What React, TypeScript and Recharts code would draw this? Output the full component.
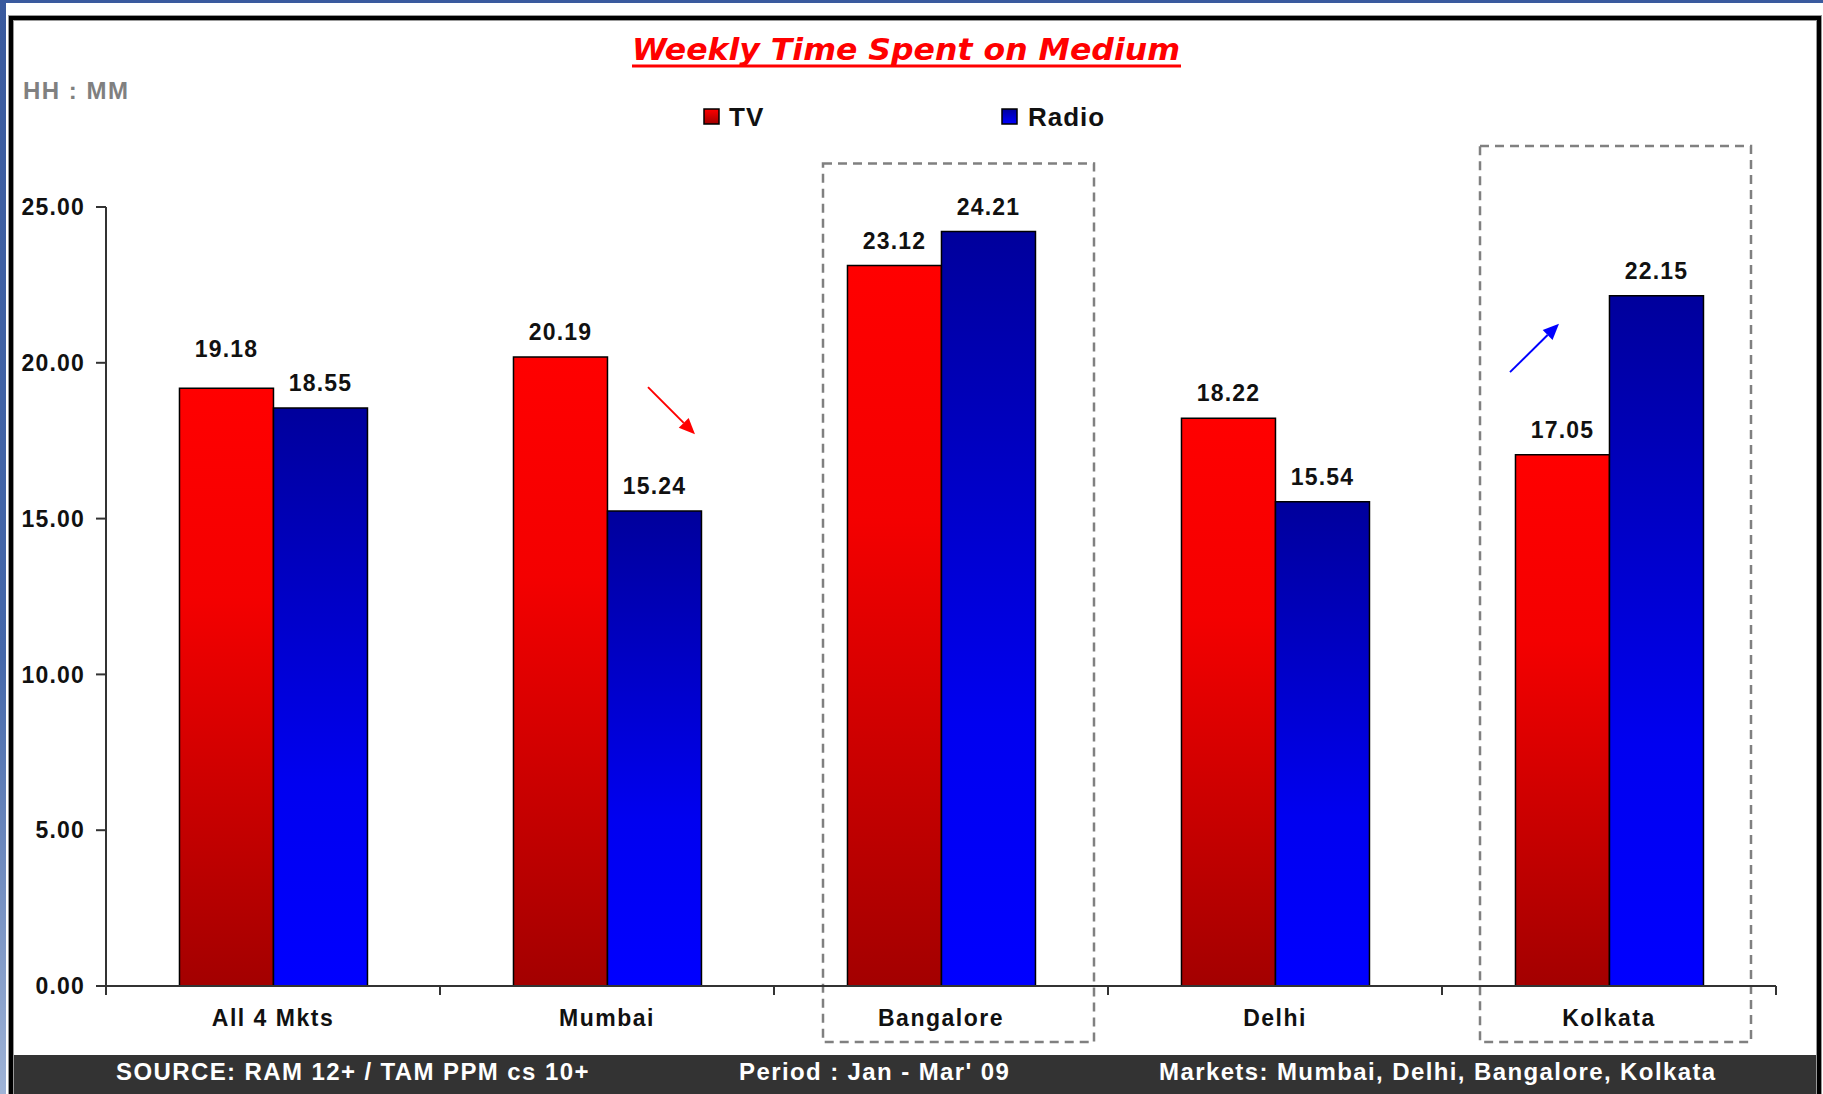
import React from 'react';
import { BarChart, Bar, XAxis, YAxis, LabelList, ReferenceArea, ReferenceLine } from 'recharts';

const categories = ['All 4 Mkts', 'Mumbai', 'Bangalore', 'Delhi', 'Kolkata'];
const tvValues = [19.18, 20.19, 23.12, 18.22, 17.05];
const radioValues = [18.55, 15.24, 24.21, 15.54, 22.15];
const yTicks = [0, 5, 10, 15, 20, 25];
const seriesNames = ['TV', 'Radio'];
const titleText = 'Weekly Time Spent on Medium';
const unitText = 'HH : MM';
const footerTexts = ['SOURCE: RAM 12+ / TAM PPM cs 10+', "Period : Jan - Mar' 09", 'Markets: Mumbai, Delhi, Bangalore, Kolkata'];

const data = categories.map((c, i) => ({ cat: c, tv: tvValues[i], radio: radioValues[i] }));

const W = 1823;
const H = 1094;
const MARGIN = { top: 207, right: 47, bottom: 48, left: 0 };
const YAXIS_W = 106;
const XAXIS_H = 60;
const PLOT_W = W - MARGIN.left - MARGIN.right - YAXIS_W;
const BAND = PLOT_W / categories.length;
const FONT = '"Liberation Sans", Arial, sans-serif';

const makeLabel = (key: 'tv' | 'radio') => (props: any) => {
  const { x, y, width, index, value } = props;
  const own = key === 'tv' ? tvValues[index] : radioValues[index];
  const other = key === 'tv' ? radioValues[index] : tvValues[index];
  const lift = own >= other && own - other < 1 ? 14 : 0;
  return (
    <text
      x={Number(x) + Number(width) / 2}
      y={Number(y) - 17 - lift}
      textAnchor="middle"
      fontFamily={FONT}
      fontSize={23}
      fontWeight="bold"
      fill="#111"
      letterSpacing={1.2}
    >
      {Number(value).toFixed(2)}
    </text>
  );
};

const XTick = (props: any) => {
  const { x, y, payload, index } = props;
  return (
    <g>
      <line x1={x - BAND / 2} x2={x - BAND / 2} y1={y} y2={y + 9} stroke="#333" strokeWidth={2} />
      {index === categories.length - 1 && (
        <line x1={x + BAND / 2} x2={x + BAND / 2} y1={y} y2={y + 9} stroke="#333" strokeWidth={2} />
      )}
      <text x={x} y={y + 40} textAnchor="middle" fontFamily={FONT} fontSize={23} fontWeight="bold" fill="#111" letterSpacing={1.5}>
        {payload.value}
      </text>
    </g>
  );
};

const boxShape = (leftInset: number, rightInset: number) => (p: any) => (
  <rect
    x={p.x + leftInset}
    y={p.y}
    width={p.width - leftInset - rightInset}
    height={p.height}
    fill="none"
    stroke="#808080"
    strokeWidth={2.5}
    strokeDasharray="9 6"
  />
);

const arrowShape = (dx1: number, dx2: number, color: string, id: string) => (p: any) => {
  const x1 = p.x1 + dx1;
  const x2 = p.x2 + dx2;
  const y1 = p.y1;
  const y2 = p.y2;
  const ang = Math.atan2(y2 - y1, x2 - x1);
  const len = 16;
  const half = 7;
  const bx = x2 - len * Math.cos(ang);
  const by = y2 - len * Math.sin(ang);
  const pts = [
    `${x2},${y2}`,
    `${bx + half * Math.sin(ang)},${by - half * Math.cos(ang)}`,
    `${bx - half * Math.sin(ang)},${by + half * Math.cos(ang)}`,
  ].join(' ');
  return (
    <g key={id}>
      <line x1={x1} y1={y1} x2={bx} y2={by} stroke={color} strokeWidth={2} />
      <polygon points={pts} fill={color} />
    </g>
  );
};

export default function App() {
  return (
    <div
      style={{
        position: 'fixed',
        left: 0,
        top: 0,
        width: W,
        height: H,
        overflow: 'hidden',
        background: 'linear-gradient(180deg, #3a5a9e 0%, #4467aa 60%, #9fb3d6 100%)',
        fontFamily: FONT,
      }}
    >
      <div style={{ position: 'absolute', left: 6, top: 3, width: W - 6, height: H - 3, background: '#ffffff' }} />
      <div
        style={{
          position: 'absolute',
          left: 9,
          top: 16,
          width: 1812,
          height: H - 16 + 10,
          border: '4px solid #000',
          boxShadow: '0 0 0 1px #999, inset 0 0 0 1px #999',
          boxSizing: 'border-box',
        }}
      />
      <div style={{ position: 'absolute', left: 14, top: 1055, width: 1802, height: 39, background: '#333333' }} />
      {footerTexts.map((t, i) => (
        <div
          key={t}
          style={{
            position: 'absolute',
            left: [116, 739, 1159][i],
            top: 1055,
            height: 34,
            lineHeight: '34px',
            color: '#ffffff',
            fontWeight: 'bold',
            fontSize: 24,
            whiteSpace: 'nowrap',
            letterSpacing: 1.4,
          }}
        >
          {t}
        </div>
      ))}
      <svg style={{ position: 'absolute', left: 0, top: 0 }} width={W} height={150}>
        <text
          x={906}
          y={60}
          textAnchor="middle"
          fontFamily='"DejaVu Sans", sans-serif'
          fontStyle="italic"
          fontWeight="bold"
          fontSize={30}
          fill="#ff0000"
          textLength={548}
          lengthAdjust="spacingAndGlyphs"
        >
          {titleText}
        </text>
        <line x1={632} x2={1181} y1={66} y2={66} stroke="#ff0000" strokeWidth={3} />
        <text x={23} y={99} fontFamily={FONT} fontSize={24} fontWeight="bold" fill="#808080" letterSpacing={1.5}>
          {unitText}
        </text>
        <defs>
          <linearGradient id="lgTv" x1="0" y1="0" x2="0" y2="1">
            <stop offset="0%" stopColor="#ff0000" />
            <stop offset="100%" stopColor="#a00000" />
          </linearGradient>
          <linearGradient id="lgRadio" x1="0" y1="0" x2="0" y2="1">
            <stop offset="0%" stopColor="#00009c" />
            <stop offset="100%" stopColor="#0000ff" />
          </linearGradient>
        </defs>
        <rect x={704} y={109} width={15} height={15} fill="url(#lgTv)" stroke="#000" strokeWidth={1.5} />
        <text x={729} y={126} fontFamily={FONT} fontSize={26} fontWeight="bold" fill="#111" letterSpacing={1}>
          {seriesNames[0]}
        </text>
        <rect x={1002} y={109} width={15} height={15} fill="url(#lgRadio)" stroke="#000" strokeWidth={1.5} />
        <text x={1028} y={126} fontFamily={FONT} fontSize={26} fontWeight="bold" fill="#111" letterSpacing={1}>
          {seriesNames[1]}
        </text>
      </svg>
      <div style={{ position: 'absolute', left: 0, top: 0 }}>
        <BarChart width={W} height={H} data={data} margin={MARGIN} barCategoryGap="22%" barGap={0}>
          <defs>
            <linearGradient id="gTv" x1="0" y1="0" x2="0" y2="1">
              <stop offset="0%" stopColor="#ff0000" />
              <stop offset="35%" stopColor="#f40000" />
              <stop offset="100%" stopColor="#a30000" />
            </linearGradient>
            <linearGradient id="gRadio" x1="0" y1="0" x2="0" y2="1">
              <stop offset="0%" stopColor="#00009c" />
              <stop offset="65%" stopColor="#0000f0" />
              <stop offset="100%" stopColor="#0000ff" />
            </linearGradient>
          </defs>
          <XAxis
            dataKey="cat"
            height={XAXIS_H}
            axisLine={{ stroke: '#333', strokeWidth: 2 }}
            tickLine={false}
            tickSize={0}
            tickMargin={0}
            tick={<XTick />}
            interval={0}
          />
          <YAxis
            width={YAXIS_W}
            domain={[0, 25]}
            ticks={yTicks}
            interval={0}
            tickFormatter={(v: number) => v.toFixed(2)}
            axisLine={{ stroke: '#333', strokeWidth: 2 }}
            tickLine={{ stroke: '#333', strokeWidth: 2 }}
            tickSize={10}
            tickMargin={11}
            tick={{ fill: '#111', fontSize: 23, fontWeight: 'bold', fontFamily: FONT, letterSpacing: 1.2 }}
          />
          <Bar dataKey="tv" name={seriesNames[0]} fill="url(#gTv)" stroke="#000" strokeWidth={1.5} isAnimationActive={false}>
            <LabelList dataKey="tv" content={makeLabel('tv')} />
          </Bar>
          <Bar dataKey="radio" name={seriesNames[1]} fill="url(#gRadio)" stroke="#000" strokeWidth={1.5} isAnimationActive={false}>
            <LabelList dataKey="radio" content={makeLabel('radio')} />
          </Bar>
          <ReferenceArea x1="Bangalore" x2="Bangalore" y1={-1.8} y2={26.4} ifOverflow="visible" shape={boxShape(49, 14)} />
          <ReferenceArea x1="Kolkata" x2="Kolkata" y1={-1.8} y2={26.96} ifOverflow="visible" shape={boxShape(38, 25)} />
          <ReferenceLine
            segment={[{ x: 'Mumbai', y: 19.22 }, { x: 'Mumbai', y: 17.71 }]}
            ifOverflow="visible"
            shape={arrowShape(41, 88, '#ff0000', 'a1')}
          />
          <ReferenceLine
            segment={[{ x: 'Kolkata', y: 19.7 }, { x: 'Kolkata', y: 21.25 }]}
            ifOverflow="visible"
            shape={arrowShape(-99, -50, '#0000ff', 'a2')}
          />
        </BarChart>
      </div>
    </div>
  );
}
